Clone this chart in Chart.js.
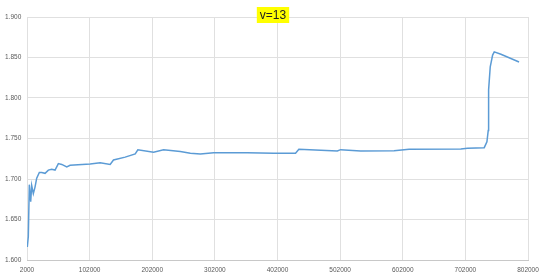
<!DOCTYPE html>
<html>
<head>
<meta charset="utf-8">
<script src="https://cdn.jsdelivr.net/npm/chart.js@4"></script>
<style>
  html, body { margin: 0; padding: 0; background: #fff; }
  #wrap { width: 540px; height: 278px; }
</style>
</head>
<body>
<div id="wrap"><canvas id="myChart"></canvas></div>
<script>
// * values
const xValues = [2500, 4100, 5700, 7900, 9500, 12100, 14800, 17500, 21700, 25500,
    30800, 36100, 41500, 46800, 52100, 57500, 65500, 70800, 102800, 118800,
    134800, 140100, 158800, 174800, 179000, 204100, 220100, 246800, 262800, 278800,
    300100, 353500, 396100, 430800, 436100, 497500, 502800, 534800, 588100, 612100,
    694800, 705500, 732100, 736400, 738500, 739100, 741700, 745500, 748100, 758800,
    787700];
const yValues = [1.616, 1.629, 1.693, 1.672, 1.692, 1.682, 1.690, 1.701, 1.708, 1.708,
    1.707, 1.711, 1.712, 1.711, 1.719, 1.718, 1.715, 1.717, 1.7185, 1.720,
    1.718, 1.7235, 1.727, 1.731, 1.736, 1.733, 1.736, 1.734, 1.7317, 1.731,
    1.7325, 1.7325, 1.7317, 1.7317, 1.7366, 1.7345, 1.7362, 1.7345, 1.735, 1.7366,
    1.737, 1.738, 1.7387, 1.746, 1.760, 1.810, 1.8386, 1.853, 1.857, 1.854,
    1.8445];

const xTicks = [2000, 102000, 202000, 302000, 402000, 502000, 602000, 702000, 802000];
const yTicks = [1.6, 1.65, 1.7, 1.75, 1.8, 1.85, 1.9];
const titleText = "v=13";

const ctx = document.getElementById("myChart").getContext("2d");

// * yellow highlighted label on top of the plot
const titleBox = {
    id: "titleBox",
    afterDraw(chart) {
        const c = chart.ctx;
        c.save();
        c.font = "12px 'Liberation Sans', Arial, sans-serif";
        const w = c.measureText(titleText).width;
        const cx = 273, cy = 15;
        c.fillStyle = "#ffff00";
        c.fillRect(cx - w / 2 - 3, cy - 8, w + 6, 16);
        c.fillStyle = "#222";
        c.textAlign = "center";
        c.textBaseline = "middle";
        c.fillText(titleText, cx, cy + 1);
        c.restore();
    },
};

const tickFont = { family: "'Liberation Sans', Arial, sans-serif", size: 6.5 };

const config = {
    type: "line",
    data: {
        datasets: [
            {
                data: xValues.map((x, i) => ({ x: x, y: yValues[i] })),
                borderColor: "#5b9bd5",
                borderWidth: 1.5,
                pointRadius: 0,
                tension: 0,
                fill: false,
            },
        ],
    },
    options: {
        animation: false,
        responsive: true,
        maintainAspectRatio: false,
        layout: { padding: { left: 5, right: 12, top: 17, bottom: 0 } },
        plugins: {
            legend: false,
            tooltip: { enabled: false },
        },
        scales: {
            x: {
                type: "linear",
                min: 2000,
                max: 802000,
                afterBuildTicks: (axis) => {
                    axis.ticks = xTicks.map((v) => ({ value: v }));
                },
                afterFit: (axis) => {
                    axis.height = 18;
                    // * keep the plot edges fixed, labels may overhang
                    axis.paddingLeft = 0;
                    axis.paddingRight = 0;
                },
                ticks: {
                    color: "#595959",
                    font: tickFont,
                    padding: 6,
                    maxRotation: 0,
                    autoSkip: false,
                    callback: (v) => String(v),
                },
                grid: { color: "#e0e0e0", drawTicks: false },
                border: { color: "#c8c8c8" },
            },
            y: {
                min: 1.6,
                max: 1.9,
                afterBuildTicks: (axis) => {
                    axis.ticks = yTicks.map((v) => ({ value: v }));
                },
                afterFit: (axis) => {
                    axis.width = 22;
                    axis.paddingTop = 0;
                    axis.paddingBottom = 0;
                },
                ticks: {
                    color: "#595959",
                    font: tickFont,
                    crossAlign: "far",
                    callback: (v) => v.toFixed(3),
                },
                grid: { color: "#e0e0e0", drawTicks: false },
                border: { display: false },
            },
        },
    },
    plugins: [titleBox],
};

const chart = new Chart(ctx, config);
</script>
</body>
</html>
